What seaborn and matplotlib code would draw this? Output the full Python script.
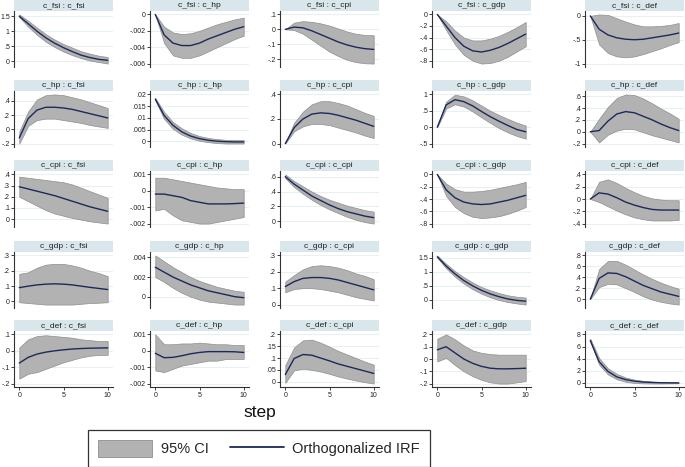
import numpy as np
import pandas as pd
import matplotlib
matplotlib.use("Agg")
import matplotlib.pyplot as plt
from matplotlib.patches import Patch
from matplotlib.lines import Line2D
import seaborn as sns

# ---------------- data ----------------
steps = list(range(11))
variables = ["c_fsi", "c_hp", "c_cpi", "c_gdp", "c_def"]

# impulse c_fsi -> responses fsi, hp, cpi, gdp, def
irf_fsi = [
    [1.5, 1.25, 1.0, 0.78, 0.6, 0.45, 0.32, 0.2, 0.12, 0.06, 0.03],
    [0, -0.0025, -0.0035, -0.0038, -0.0038, -0.0035, -0.003, -0.0026, -0.0022, -0.0018, -0.0015],
    [0, 0.015, 0.01, -0.01, -0.035, -0.06, -0.085, -0.105, -0.12, -0.13, -0.135],
    [0, -0.2, -0.4, -0.55, -0.63, -0.65, -0.62, -0.57, -0.5, -0.42, -0.34],
    [0, -0.28, -0.4, -0.46, -0.49, -0.5, -0.49, -0.46, -0.43, -0.4, -0.36],
]
lo_fsi = [
    [1.47, 1.15, 0.88, 0.65, 0.47, 0.32, 0.2, 0.1, 0.02, -0.03, -0.08],
    [0, -0.0035, -0.005, -0.0053, -0.0053, -0.005, -0.0045, -0.004, -0.0035, -0.003, -0.0026],
    [0, -0.005, -0.03, -0.07, -0.11, -0.15, -0.18, -0.205, -0.22, -0.228, -0.23],
    [0, -0.27, -0.52, -0.7, -0.8, -0.85, -0.84, -0.8, -0.73, -0.64, -0.55],
    [0, -0.6, -0.78, -0.85, -0.87, -0.85, -0.8, -0.74, -0.68, -0.61, -0.55],
]
hi_fsi = [
    [1.56, 1.35, 1.12, 0.9, 0.72, 0.57, 0.45, 0.33, 0.25, 0.18, 0.14],
    [0, -0.0015, -0.0022, -0.0024, -0.0023, -0.002, -0.0016, -0.0012, -0.0009, -0.0006, -0.0004],
    [0, 0.045, 0.055, 0.05, 0.04, 0.025, 0.005, -0.015, -0.03, -0.038, -0.04],
    [0, -0.12, -0.28, -0.4, -0.45, -0.45, -0.42, -0.37, -0.3, -0.22, -0.13],
    [0, 0.03, 0.02, -0.05, -0.12, -0.18, -0.22, -0.22, -0.21, -0.19, -0.15],
]

irf_hp = [
    [-0.12, 0.15, 0.27, 0.31, 0.31, 0.3, 0.28, 0.25, 0.22, 0.19, 0.16],
    [0.018, 0.011, 0.0068, 0.004, 0.0022, 0.0011, 0.0004, 0.0, -0.0002, -0.0003, -0.0003],
    [0, 0.13, 0.2, 0.24, 0.25, 0.245, 0.23, 0.21, 0.19, 0.165, 0.14],
    [0, 0.68, 0.84, 0.78, 0.65, 0.48, 0.32, 0.18, 0.05, -0.07, -0.14],
    [0, 0.02, 0.18, 0.3, 0.34, 0.32, 0.26, 0.2, 0.13, 0.07, 0.02],
]
lo_hp = [
    [-0.2, 0.05, 0.13, 0.15, 0.15, 0.13, 0.11, 0.09, 0.06, 0.04, 0.02],
    [0.0175, 0.0095, 0.0053, 0.0028, 0.0012, 0.0002, -0.0004, -0.0008, -0.001, -0.001, -0.001],
    [0, 0.1, 0.14, 0.16, 0.16, 0.15, 0.13, 0.11, 0.09, 0.065, 0.045],
    [0, 0.57, 0.7, 0.63, 0.48, 0.3, 0.13, -0.03, -0.16, -0.27, -0.35],
    [0, -0.18, -0.05, 0.02, 0.05, 0.04, -0.01, -0.06, -0.1, -0.14, -0.18],
]
hi_hp = [
    [-0.03, 0.25, 0.42, 0.48, 0.49, 0.48, 0.45, 0.42, 0.38, 0.34, 0.3],
    [0.0185, 0.0125, 0.0082, 0.0055, 0.0035, 0.0022, 0.0014, 0.0009, 0.0006, 0.0005, 0.0005],
    [0, 0.17, 0.26, 0.32, 0.345, 0.345, 0.33, 0.31, 0.28, 0.25, 0.225],
    [0, 0.78, 0.99, 0.94, 0.82, 0.66, 0.5, 0.37, 0.25, 0.14, 0.05],
    [0, 0.22, 0.42, 0.57, 0.63, 0.62, 0.56, 0.48, 0.39, 0.31, 0.22],
]

irf_cpi = [
    [0.29, 0.27, 0.25, 0.23, 0.21, 0.185, 0.16, 0.135, 0.11, 0.09, 0.07],
    [-0.0002, -0.0002, -0.0003, -0.0004, -0.0006, -0.0007, -0.0008, -0.0008, -0.0008, -0.00078, -0.00075],
    [0.6, 0.5, 0.42, 0.34, 0.28, 0.22, 0.17, 0.13, 0.1, 0.07, 0.05],
    [0, -0.25, -0.38, -0.45, -0.48, -0.49, -0.48, -0.45, -0.42, -0.38, -0.34],
    [0, 0.1, 0.08, 0.02, -0.05, -0.1, -0.14, -0.17, -0.18, -0.18, -0.18],
]
lo_cpi = [
    [0.2, 0.16, 0.12, 0.08, 0.05, 0.03, 0.01, -0.005, -0.02, -0.03, -0.04],
    [-0.0012, -0.0011, -0.0015, -0.0018, -0.0019, -0.002, -0.002, -0.0019, -0.0018, -0.0017, -0.0016],
    [0.58, 0.46, 0.37, 0.29, 0.22, 0.16, 0.11, 0.06, 0.02, -0.01, -0.03],
    [0, -0.35, -0.53, -0.63, -0.69, -0.71, -0.7, -0.68, -0.64, -0.59, -0.53],
    [0, -0.05, -0.12, -0.19, -0.25, -0.3, -0.33, -0.35, -0.35, -0.35, -0.34],
]
hi_cpi = [
    [0.38, 0.37, 0.36, 0.35, 0.34, 0.33, 0.31, 0.28, 0.25, 0.22, 0.19],
    [0.0008, 0.0008, 0.0007, 0.0006, 0.0005, 0.0004, 0.0003, 0.0002, 0.00015, 0.0001, 0.0001],
    [0.63, 0.54, 0.47, 0.4, 0.34, 0.29, 0.25, 0.21, 0.18, 0.15, 0.13],
    [0, -0.15, -0.24, -0.28, -0.28, -0.27, -0.25, -0.22, -0.19, -0.16, -0.12],
    [0, 0.28, 0.32, 0.26, 0.18, 0.11, 0.05, 0.01, -0.01, -0.02, -0.02],
]

irf_gdp = [
    [0.09, 0.1, 0.108, 0.113, 0.115, 0.113, 0.108, 0.1, 0.092, 0.085, 0.078],
    [0.003, 0.0025, 0.002, 0.0016, 0.0012, 0.0009, 0.0006, 0.0004, 0.0002, 0.0, -0.0001],
    [0.11, 0.14, 0.16, 0.165, 0.165, 0.16, 0.15, 0.135, 0.12, 0.105, 0.09],
    [1.53, 1.2, 0.92, 0.68, 0.49, 0.33, 0.2, 0.1, 0.02, -0.03, -0.06],
    [0, 0.38, 0.48, 0.47, 0.41, 0.33, 0.25, 0.19, 0.13, 0.09, 0.05],
]
lo_gdp = [
    [-0.005, -0.01, -0.015, -0.02, -0.02, -0.02, -0.02, -0.015, -0.01, -0.008, -0.005],
    [0.002, 0.0015, 0.0009, 0.0004, 0.0, -0.0003, -0.0005, -0.0006, -0.0007, -0.0008, -0.0008],
    [0.075, 0.095, 0.1, 0.1, 0.095, 0.085, 0.075, 0.06, 0.045, 0.035, 0.025],
    [1.5, 1.12, 0.82, 0.57, 0.37, 0.21, 0.08, -0.02, -0.09, -0.14, -0.18],
    [0, 0.22, 0.28, 0.27, 0.2, 0.13, 0.05, -0.01, -0.05, -0.08, -0.1],
]
hi_gdp = [
    [0.18, 0.19, 0.22, 0.24, 0.245, 0.245, 0.235, 0.22, 0.2, 0.185, 0.165],
    [0.0042, 0.0036, 0.003, 0.0025, 0.002, 0.0016, 0.0013, 0.001, 0.0008, 0.0006, 0.0005],
    [0.14, 0.18, 0.215, 0.235, 0.24, 0.235, 0.225, 0.21, 0.19, 0.175, 0.155],
    [1.58, 1.28, 1.02, 0.8, 0.61, 0.45, 0.33, 0.23, 0.15, 0.1, 0.07],
    [0, 0.55, 0.7, 0.7, 0.63, 0.54, 0.45, 0.37, 0.3, 0.24, 0.19],
]

irf_def = [
    [-0.075, -0.04, -0.02, -0.008, 0.0, 0.006, 0.011, 0.014, 0.016, 0.017, 0.018],
    [-0.00015, -0.00042, -0.0004, -0.0003, -0.00018, -0.0001, -0.00005, -0.00005, -0.00005, -0.00006, -0.0001],
    [0.03, 0.098, 0.115, 0.112, 0.1, 0.088, 0.075, 0.065, 0.055, 0.045, 0.035],
    [0.075, 0.1, 0.05, 0.0, -0.035, -0.06, -0.075, -0.08, -0.08, -0.078, -0.075],
    [7.0, 3.5, 1.9, 1.0, 0.55, 0.3, 0.15, 0.08, 0.04, 0.02, 0.01],
]
lo_def = [
    [-0.17, -0.14, -0.13, -0.11, -0.09, -0.07, -0.055, -0.04, -0.03, -0.025, -0.025],
    [-0.0012, -0.0013, -0.0011, -0.0009, -0.0008, -0.0007, -0.0006, -0.0006, -0.0005, -0.0005, -0.0005],
    [-0.005, 0.048, 0.055, 0.05, 0.043, 0.033, 0.022, 0.013, 0.005, -0.002, -0.008],
    [-0.02, 0.01, -0.05, -0.1, -0.14, -0.17, -0.19, -0.2, -0.2, -0.19, -0.18],
    [6.8, 3.0, 1.4, 0.6, 0.2, 0.0, -0.08, -0.1, -0.1, -0.08, -0.06],
]
hi_def = [
    [0.02, 0.07, 0.09, 0.095, 0.09, 0.085, 0.08, 0.07, 0.065, 0.06, 0.06],
    [0.001, 0.0004, 0.0004, 0.00045, 0.00045, 0.0005, 0.00045, 0.0004, 0.0004, 0.00035, 0.00035],
    [0.07, 0.145, 0.175, 0.178, 0.165, 0.148, 0.13, 0.115, 0.1, 0.085, 0.072],
    [0.165, 0.2, 0.16, 0.11, 0.07, 0.05, 0.04, 0.035, 0.035, 0.035, 0.035],
    [7.3, 4.1, 2.4, 1.5, 0.9, 0.55, 0.35, 0.23, 0.15, 0.1, 0.08],
]

# y tick values per panel (row = impulse, col = response)
yticks = [
    [[0, 0.5, 1, 1.5], [-0.006, -0.004, -0.002, 0], [-0.2, -0.1, 0, 0.1], [-0.8, -0.6, -0.4, -0.2, 0], [-1, -0.5, 0]],
    [[-0.2, 0, 0.2, 0.4], [0, 0.005, 0.01, 0.015, 0.02], [0, 0.2, 0.4], [-0.5, 0, 0.5, 1], [-0.2, 0, 0.2, 0.4, 0.6]],
    [[0, 0.1, 0.2, 0.3, 0.4], [-0.002, -0.001, 0, 0.001], [0, 0.2, 0.4, 0.6], [-0.8, -0.6, -0.4, -0.2, 0], [-0.4, -0.2, 0, 0.2, 0.4]],
    [[0, 0.1, 0.2, 0.3], [0, 0.002, 0.004], [0, 0.1, 0.2, 0.3], [0, 0.5, 1, 1.5], [0, 0.2, 0.4, 0.6, 0.8]],
    [[-0.2, -0.1, 0, 0.1], [-0.002, -0.001, 0, 0.001], [0, 0.05, 0.1, 0.15, 0.2], [-0.2, -0.1, 0, 0.1, 0.2], [0, 2, 4, 6, 8]],
]
xticks = [0, 5, 10]

irf_all = [irf_fsi, irf_hp, irf_cpi, irf_gdp, irf_def]
lo_all = [lo_fsi, lo_hp, lo_cpi, lo_gdp, lo_def]
hi_all = [hi_fsi, hi_hp, hi_cpi, hi_gdp, hi_def]

# ---------------- style ----------------
sns.set_style("white")
plt.rcParams["font.family"] = ["Liberation Sans", "DejaVu Sans"]

W, H = 685, 467
fig = plt.figure(figsize=(W / 100, H / 100), dpi=100)

LINE = "#1c2a5a"
FILL = "#b2b2b2"
EDGE = "#8e8e8e"
STRIP = "#d9e6ec"
GRID = "#e8f0f2"

col_left = [14, 150, 280, 432, 585]
row_top = [0, 80, 160, 241, 320]
pw, strip_h, plot_h = 99, 11, 56


def fmt(v):
    if v == 0:
        return "0"
    s = ("%.4f" % v).rstrip("0").rstrip(".")
    s = s.replace("0.", ".", 1) if abs(v) < 1 else s
    return s


def px(x, y, w, h):
    return [x / W, 1 - (y + h) / H, w / W, h / H]


for i in range(5):
    for j in range(5):
        irf = irf_all[i][j]
        lo = lo_all[i][j]
        hi = hi_all[i][j]
        tks = yticks[i][j]
        x0, y0 = col_left[j], row_top[i]

        sax = fig.add_axes(px(x0, y0, pw, strip_h))
        sax.set_facecolor(STRIP)
        for s in sax.spines.values():
            s.set_visible(False)
        sax.set_xticks([]); sax.set_yticks([])
        sax.text(0.5, 0.5, f"{variables[i]} : {variables[j]}", ha="center", va="center",
                 fontsize=6.0, color="#222222", transform=sax.transAxes)

        ax = fig.add_axes(px(x0, y0 + strip_h, pw, plot_h))
        df = pd.DataFrame({"step": steps, "irf": irf, "lo": lo, "hi": hi})
        ax.fill_between(df["step"], df["lo"], df["hi"], color=FILL, edgecolor=EDGE,
                        linewidth=0.5, zorder=2)
        sns.lineplot(data=df, x="step", y="irf", ax=ax, color=LINE, linewidth=1.0, zorder=3)
        ymin = min(min(lo), min(tks)); ymax = max(max(hi), max(tks))
        pad = (ymax - ymin) * 0.07
        ax.set_ylim(ymin - pad, ymax + pad)
        ax.set_xlim(-0.6, 10.6)
        ax.set_yticks(tks)
        ax.set_yticklabels([fmt(t) for t in tks])
        for t in tks:
            ax.axhline(t, color=GRID, linewidth=0.8, zorder=0)
        ax.set_xlabel(""); ax.set_ylabel("")
        ax.spines["top"].set_visible(False)
        ax.spines["right"].set_visible(False)
        ax.spines["left"].set_color("#333333")
        ax.spines["left"].set_linewidth(0.8)
        ax.tick_params(axis="y", length=2.2, width=0.6, pad=0.8, labelsize=5.0, colors="#222222", left=True)
        if i == 4:
            ax.set_xticks(xticks)
            ax.set_xticklabels([str(t) for t in xticks])
            ax.spines["bottom"].set_color("#333333")
            ax.spines["bottom"].set_linewidth(0.8)
            ax.tick_params(axis="x", length=2.2, width=0.6, pad=1.5, labelsize=5.0, colors="#222222", bottom=True)
        else:
            ax.spines["bottom"].set_visible(False)
            ax.set_xticks([])

fig.text(260 / W, 1 - 413 / H, "step", ha="center", va="center", fontsize=12.5, color="#111111")

handles = [Patch(facecolor=FILL, edgecolor=EDGE, linewidth=0.6),
           Line2D([0], [0], color=LINE, linewidth=1.3)]
leg = fig.legend(handles, ["95% CI", "Orthogonalized IRF"], loc="center",
                 bbox_to_anchor=(259 / W, 1 - 448.5 / H), ncol=2, frameon=True,
                 fancybox=False, edgecolor="black", fontsize=10.5, handlelength=3.7,
                 handleheight=1.35, columnspacing=1.45, handletextpad=0.6,
                 borderpad=0.7, borderaxespad=0)
leg.get_frame().set_linewidth(0.9)

fig.savefig("out.png", dpi=100, facecolor="white")
